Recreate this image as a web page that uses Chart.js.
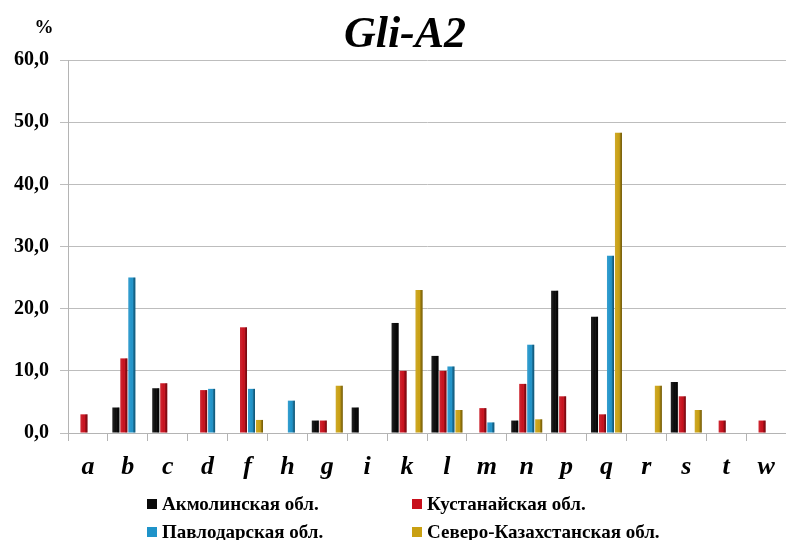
<!DOCTYPE html>
<html>
<head>
<meta charset="utf-8">
<script src="https://cdn.jsdelivr.net/npm/chart.js@4/dist/chart.umd.min.js"></script>
<style>
  html, body { margin: 0; padding: 0; background: #fff; }
  #wrap { width: 786px; height: 540px; position: relative; }
</style>
</head>
<body>
<div id="wrap"><canvas id="c" width="786" height="540"></canvas></div>
<script>
// Gli-A2 allele frequencies (%) by region
const categories = ['a','b','c','d','f','h','g','i','k','l','m','n','p','q','r','s','t','w'];
const akmola   = [null, 4.1, 7.2, null, null, null, 2.0, 4.1, 17.7, 12.4, null, 2.0, 22.9, 18.7, null, 8.2, null, null];
const kustanai = [3.0, 12.0, 8.0, 6.9, 17.0, null, 2.0, null, 10.0, 10.0, 4.0, 7.9, 5.9, 3.0, null, 5.9, 2.0, 2.0];
const pavlodar = [null, 25.0, null, 7.1, 7.1, 5.2, null, null, null, 10.7, 1.7, 14.2, null, 28.5, null, null, null, null];
const nko      = [null, null, null, null, 2.1, null, 7.6, null, 23.0, 3.7, null, 2.2, null, 48.3, 7.6, 3.7, null, null];

const seriesNames = ['Акмолинская обл.', 'Кустанайская обл.', 'Павлодарская обл.', 'Северо-Казахстанская обл.'];
const seriesColors = ['#0a0a0a', '#c8101c', '#1f93c9', '#c9a012'];
const yTicks = [0, 10, 20, 30, 40, 50, 60];

const SERIF = '"Liberation Serif", "Times New Roman", serif';

// shading strip on each bar to give it a rounded look
const barShade = {
  id: 'barShade',
  afterDatasetsDraw(chart) {
    const ctx = chart.ctx;
    chart.data.datasets.forEach((ds, di) => {
      chart.getDatasetMeta(di).data.forEach(bar => {
        if (bar.y == null || isNaN(bar.y) || Math.abs(bar.base - bar.y) < 0.5) return;
        const left = bar.x - bar.width / 2, w = bar.width;
        const g = ctx.createLinearGradient(left, 0, left + w, 0);
        g.addColorStop(0, 'rgba(255,255,255,0.10)');
        g.addColorStop(0.55, 'rgba(255,255,255,0)');
        g.addColorStop(0.7, 'rgba(0,0,0,0.18)');
        g.addColorStop(1, 'rgba(0,0,0,0.45)');
        ctx.save();
        ctx.fillStyle = g;
        ctx.fillRect(left, bar.y, w, bar.base - bar.y);
        ctx.restore();
      });
    });
  }
};

// title, unit mark and two-column legend
const decorations = {
  id: 'decorations',
  afterDraw(chart) {
    const ctx = chart.ctx;
    ctx.save();
    ctx.fillStyle = '#000';
    ctx.textBaseline = 'alphabetic';
    ctx.textAlign = 'center';
    ctx.font = 'italic bold 44px ' + SERIF;
    ctx.fillText('Gli-A2', 405, 47);
    ctx.font = 'bold 19px ' + SERIF;
    ctx.fillText('%', 44, 33);

    ctx.textAlign = 'left';
    ctx.font = 'bold 19px ' + SERIF;
    const pos = [[147, 510], [412, 510], [147, 538], [412, 538]];
    seriesNames.forEach((name, i) => {
      const [x, y] = pos[i];
      ctx.fillStyle = seriesColors[i];
      ctx.fillRect(x, y - 11, 10, 10);
      ctx.fillStyle = '#000';
      ctx.fillText(name, x + 15, y);
    });
    ctx.restore();
  }
};

new Chart(document.getElementById('c'), {
  type: 'bar',
  data: {
    labels: categories,
    datasets: [akmola, kustanai, pavlodar, nko].map((d, i) => ({
      label: seriesNames[i],
      data: d,
      backgroundColor: seriesColors[i],
      borderWidth: 0,
      categoryPercentage: 0.8,
      barPercentage: 0.88
    }))
  },
  options: {
    responsive: false,
    animation: false,
    layout: { padding: { top: 60, right: 0, bottom: 0, left: 0 } },
    plugins: {
      legend: { display: false },
      title: { display: false },
      tooltip: { enabled: false }
    },
    scales: {
      x: {
        grid: { drawOnChartArea: false, drawTicks: true, tickLength: 8, offset: true, color: '#b4b4b4' },
        border: { color: '#b4b4b4' },
        ticks: {
          color: '#000',
          font: { family: SERIF, size: 26, style: 'italic', weight: 'bold' },
          padding: 11,
          maxRotation: 0, autoSkip: false
        },
        afterFit(scale) { scale.height = 107; }
      },
      y: {
        min: 0, max: 60,
        afterBuildTicks(scale) { scale.ticks = yTicks.map(v => ({ value: v })); },
        grid: { color: '#bdbdbd', tickLength: 8 },
        border: { color: '#b4b4b4' },
        ticks: {
          color: '#000',
          padding: 11,
          font: { family: SERIF, size: 20, weight: 'bold' },
          callback: v => v.toFixed(1).replace('.', ',')
        },
        afterFit(scale) { scale.width = 68; }
      }
    }
  },
  plugins: [barShade, decorations]
});
</script>
</body>
</html>
